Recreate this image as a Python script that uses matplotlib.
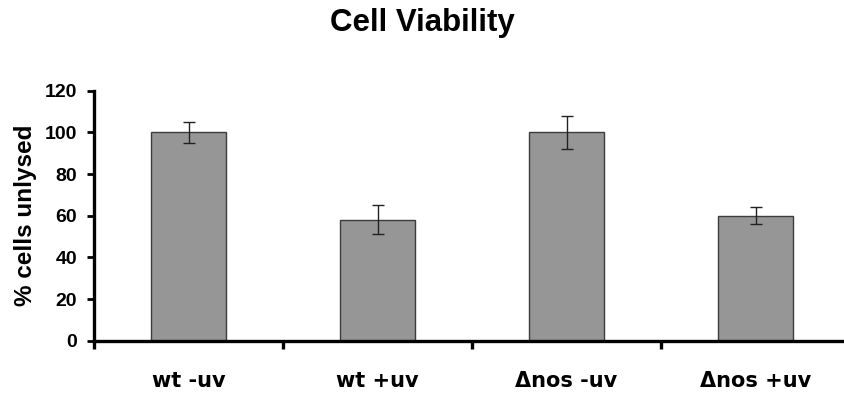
import numpy as np
import matplotlib.pyplot as plt

# data
categories = ['wt -uv', 'wt +uv', 'Δnos -uv', 'Δnos +uv']
viability = [100, 58, 100, 60]
errors = [5, 7, 8, 4.2]
yticks = [0, 20, 40, 60, 80, 100, 120]

fig = plt.figure(figsize=(8.44, 3.95), dpi=100)
ax = fig.add_axes([94 / 844, 54.3 / 395, 756 / 844, 250 / 395])

x = np.arange(len(categories))
ax.bar(x, viability, width=0.40, color='#969696', edgecolor='#3c3c3c', linewidth=1.0, zorder=2)
ax.errorbar(x, viability, yerr=errors, fmt='none', ecolor='#222222',
            elinewidth=1.0, capsize=4, capthick=1.0, zorder=3)

ax.set_xlim(-0.5, 3.5)
ax.set_ylim(0, 120)

# spines
for s in ['top', 'right']:
    ax.spines[s].set_visible(False)
for s in ['left', 'bottom']:
    ax.spines[s].set_linewidth(2.4)
    ax.spines[s].set_color('black')

# y ticks
ax.set_yticks(yticks)
ax.set_yticklabels([str(v) for v in yticks], fontfamily='Liberation Sans',
                   fontweight='bold', fontsize=14)
ax.tick_params(axis='y', direction='out', length=5, width=2, pad=7)

# x: ticks between categories, labels at the centers
ax.set_xticks(np.arange(-0.5, len(categories), 1.0))
ax.set_xticklabels([])
ax.tick_params(axis='x', which='major', direction='out', length=6, width=2.4)
ax.set_xticks(x, minor=True)
ax.set_xticklabels(categories, minor=True, fontfamily='DejaVu Sans',
                   fontweight='bold', fontsize=15)
ax.tick_params(axis='x', which='minor', length=0, pad=22)

ax.set_ylabel('% cells unlysed', fontfamily='Liberation Sans', fontweight='bold',
              fontsize=17.5, labelpad=6)
fig.text(0.5, 0.942, 'Cell Viability', ha='center', va='center',
         fontfamily='Liberation Sans', fontweight='bold', fontsize=22.5)

fig.savefig('out.png', dpi=100)
